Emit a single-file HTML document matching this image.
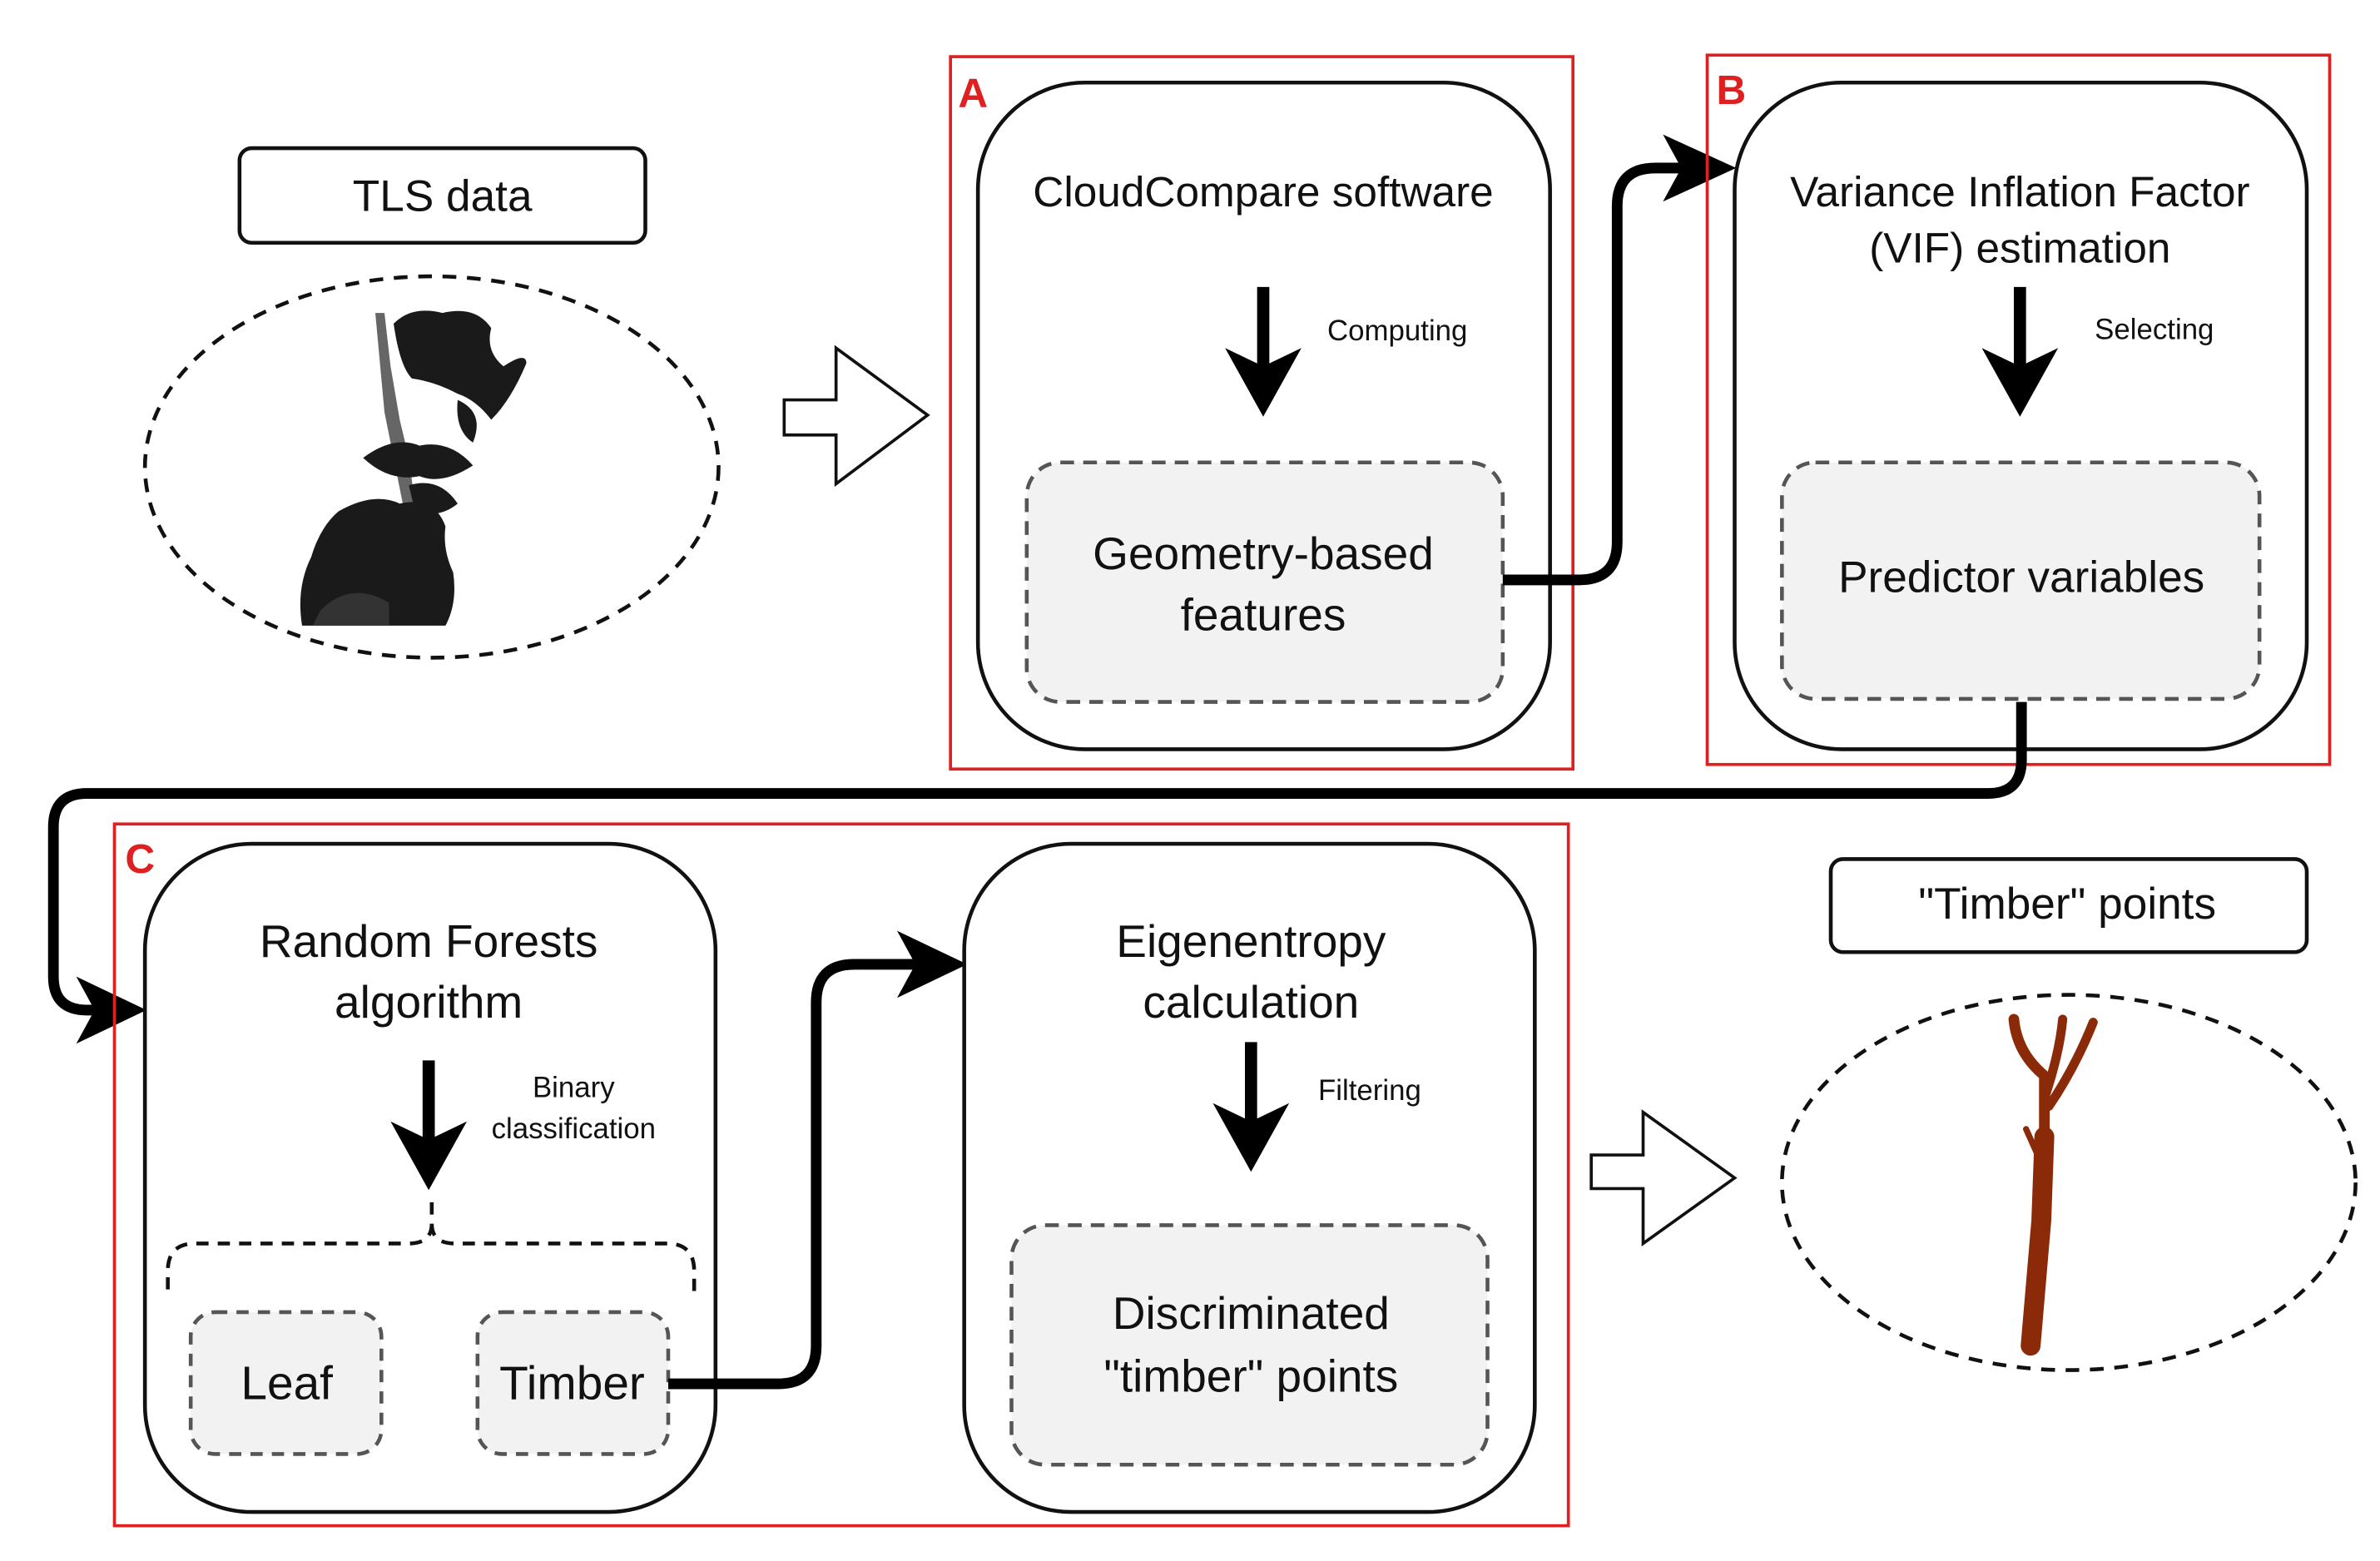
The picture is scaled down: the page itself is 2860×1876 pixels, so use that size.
<!DOCTYPE html>
<html><head><meta charset="utf-8"><style>
html,body{margin:0;padding:0;background:#fff;}
svg{display:block;}
text{font-family:"Liberation Sans",Arial,sans-serif;fill:#111;}
</style></head><body>
<svg width="2860" height="1876" viewBox="0 0 1560 1023" xmlns="http://www.w3.org/2000/svg">
<!-- TLS data -->
<rect x="157" y="97" width="266" height="62" rx="8" fill="#fff" stroke="#111" stroke-width="2.5"/>
<text x="290" y="138" font-size="29" text-anchor="middle">TLS data</text>
<ellipse cx="283" cy="306" rx="188" ry="125" fill="none" stroke="#111" stroke-width="2.5" stroke-dasharray="9,7"/>
<!-- left tree -->
<g fill="#1a1a1a">
<path d="M246 205 L252 205 L256 240 L262 275 L268 300 L272 330 L264 330 L258 300 L252 270 Z" fill="#666"/>
<path d="M258 212 Q270 200 290 205 Q312 200 322 215 Q318 230 330 240 Q345 230 345 238 Q335 262 322 275 Q312 262 300 258 Q285 250 270 248 Q262 240 258 212 Z"/>
<path d="M300 262 Q318 270 310 290 Q298 282 300 262 Z"/>
<path d="M238 300 Q258 285 275 292 Q295 288 310 305 Q290 318 275 312 Q255 316 238 300 Z"/>
<path d="M268 318 Q288 312 300 330 Q288 340 272 335 Z"/>
<path d="M222 335 Q245 322 262 330 Q285 325 292 345 Q290 360 297 375 Q300 395 292 410 L198 410 Q194 385 204 365 Q210 345 222 335 Z"/>
<path d="M210 400 Q230 380 255 395 L255 410 L205 410 Z" fill="#333"/>
</g>
<!-- hollow arrow 1 -->
<path d="M514 262 H548 V228 L608 272 L548 317 V285 H514 Z" fill="#fff" stroke="#111" stroke-width="2"/>
<!-- A -->
<rect x="623" y="37" width="408" height="467" fill="none" stroke="#e02020" stroke-width="2"/>
<text x="628" y="70" font-size="27" font-weight="bold" style="fill:#e02020">A</text>
<rect x="641" y="54" width="375" height="437" rx="70" fill="#fff" stroke="#111" stroke-width="2.5"/>
<text x="828" y="135" font-size="28" text-anchor="middle">CloudCompare software</text>
<line x1="828" y1="188" x2="828" y2="240" stroke="#000" stroke-width="8"/>
<path d="M803 228 L828 273 L853 228 L828 240 Z" fill="#000"/>
<text x="870" y="223" font-size="19">Computing</text>
<rect x="673" y="303" width="312" height="157" rx="22" fill="#f2f2f2" stroke="#555" stroke-width="2.5" stroke-dasharray="9,6"/>
<text x="828" y="373" font-size="30" text-anchor="middle">Geometry-based</text>
<text x="828" y="413" font-size="30" text-anchor="middle">features</text>
<!-- connector A->B -->
<path d="M985 380 H1035 Q1060 380 1060 355 V135 Q1060 110 1085 110 H1112" fill="none" stroke="#000" stroke-width="7"/>
<path d="M1090 88 L1138 110 L1090 132 L1102 110 Z" fill="#000"/>
<!-- B -->
<rect x="1119" y="36" width="408" height="465" fill="none" stroke="#e02020" stroke-width="2"/>
<text x="1125" y="68" font-size="27" font-weight="bold" style="fill:#e02020">B</text>
<rect x="1137" y="54" width="375" height="437" rx="70" fill="#fff" stroke="#111" stroke-width="2.5"/>
<text x="1324" y="135" font-size="28" text-anchor="middle">Variance Inflation Factor</text>
<text x="1324" y="172" font-size="28" text-anchor="middle">(VIF) estimation</text>
<line x1="1324" y1="188" x2="1324" y2="240" stroke="#000" stroke-width="8"/>
<path d="M1299 228 L1324 273 L1349 228 L1324 240 Z" fill="#000"/>
<text x="1373" y="222" font-size="19">Selecting</text>
<rect x="1168" y="303" width="313" height="155" rx="22" fill="#f2f2f2" stroke="#555" stroke-width="2.5" stroke-dasharray="9,6"/>
<text x="1325" y="388" font-size="29" text-anchor="middle">Predictor variables</text>
<!-- connector B->C -->
<path d="M1325 460 V498 Q1325 520 1303 520 H57 Q35 520 35 542 V640 Q35 662 57 662 H72" fill="none" stroke="#000" stroke-width="7"/>
<path d="M50 640 L96 662 L50 684 L62 662 Z" fill="#000"/>
<!-- C -->
<rect x="75" y="540" width="953" height="460" fill="none" stroke="#e02020" stroke-width="2"/>
<text x="82" y="572" font-size="27" font-weight="bold" style="fill:#e02020">C</text>
<rect x="95" y="553" width="374" height="438" rx="70" fill="#fff" stroke="#111" stroke-width="2.5"/>
<text x="281" y="627" font-size="30" text-anchor="middle">Random Forests</text>
<text x="281" y="667" font-size="30" text-anchor="middle">algorithm</text>
<line x1="281" y1="695" x2="281" y2="748" stroke="#000" stroke-width="8"/>
<path d="M256 735 L281 780 L306 735 L281 747 Z" fill="#000"/>
<text x="376" y="719" font-size="19" text-anchor="middle">Binary</text>
<text x="376" y="746" font-size="19" text-anchor="middle">classification</text>
<path d="M283 788 V802 Q283 815 268 815 H128 Q110 815 110 833 V850 M283 802 Q283 815 298 815 H437 Q455 815 455 833 V850" fill="none" stroke="#111" stroke-width="2.5" stroke-dasharray="8,6"/>
<rect x="125" y="860" width="125" height="93" rx="16" fill="#f2f2f2" stroke="#555" stroke-width="2.5" stroke-dasharray="8,6"/>
<text x="188" y="917" font-size="31" text-anchor="middle">Leaf</text>
<rect x="313" y="860" width="125" height="93" rx="16" fill="#f2f2f2" stroke="#555" stroke-width="2.5" stroke-dasharray="8,6"/>
<text x="375" y="917" font-size="31" text-anchor="middle">Timber</text>
<!-- connector Timber->Eigen -->
<path d="M438 907 H510 Q535 907 535 882 V657 Q535 632 560 632 H610" fill="none" stroke="#000" stroke-width="7"/>
<path d="M588 610 L634 632 L588 654 L600 632 Z" fill="#000"/>
<rect x="632" y="553" width="374" height="438" rx="70" fill="#fff" stroke="#111" stroke-width="2.5"/>
<text x="820" y="627" font-size="30" text-anchor="middle">Eigenentropy</text>
<text x="820" y="667" font-size="30" text-anchor="middle">calculation</text>
<line x1="820" y1="683" x2="820" y2="735" stroke="#000" stroke-width="8"/>
<path d="M795 723 L820 768 L845 723 L820 735 Z" fill="#000"/>
<text x="864" y="721" font-size="19">Filtering</text>
<rect x="663" y="803" width="312" height="157" rx="22" fill="#f2f2f2" stroke="#555" stroke-width="2.5" stroke-dasharray="9,6"/>
<text x="820" y="871" font-size="30" text-anchor="middle">Discriminated</text>
<text x="820" y="912" font-size="30" text-anchor="middle">"timber" points</text>
<!-- hollow arrow 2 -->
<path d="M1043 757 H1077 V729 L1137 772 L1077 815 V779 H1043 Z" fill="#fff" stroke="#111" stroke-width="2"/>
<rect x="1200" y="563" width="312" height="61" rx="8" fill="#fff" stroke="#111" stroke-width="2.5"/>
<text x="1355" y="602" font-size="29" text-anchor="middle">"Timber" points</text>
<ellipse cx="1356" cy="775" rx="188" ry="123" fill="none" stroke="#111" stroke-width="2.5" stroke-dasharray="9,7"/>
<!-- brown tree -->
<g fill="none" stroke="#8b2a08" stroke-linecap="round">
<path d="M1331 882 L1338 800 L1340 745" stroke-width="13"/>
<path d="M1340 750 L1340 705 Q1322 690 1320 668" stroke-width="7"/>
<path d="M1340 720 Q1350 690 1352 668" stroke-width="6"/>
<path d="M1343 725 Q1360 700 1372 670" stroke-width="6"/>
<path d="M1337 760 L1328 740" stroke-width="4"/>
</g>
</svg>
</body></html>
